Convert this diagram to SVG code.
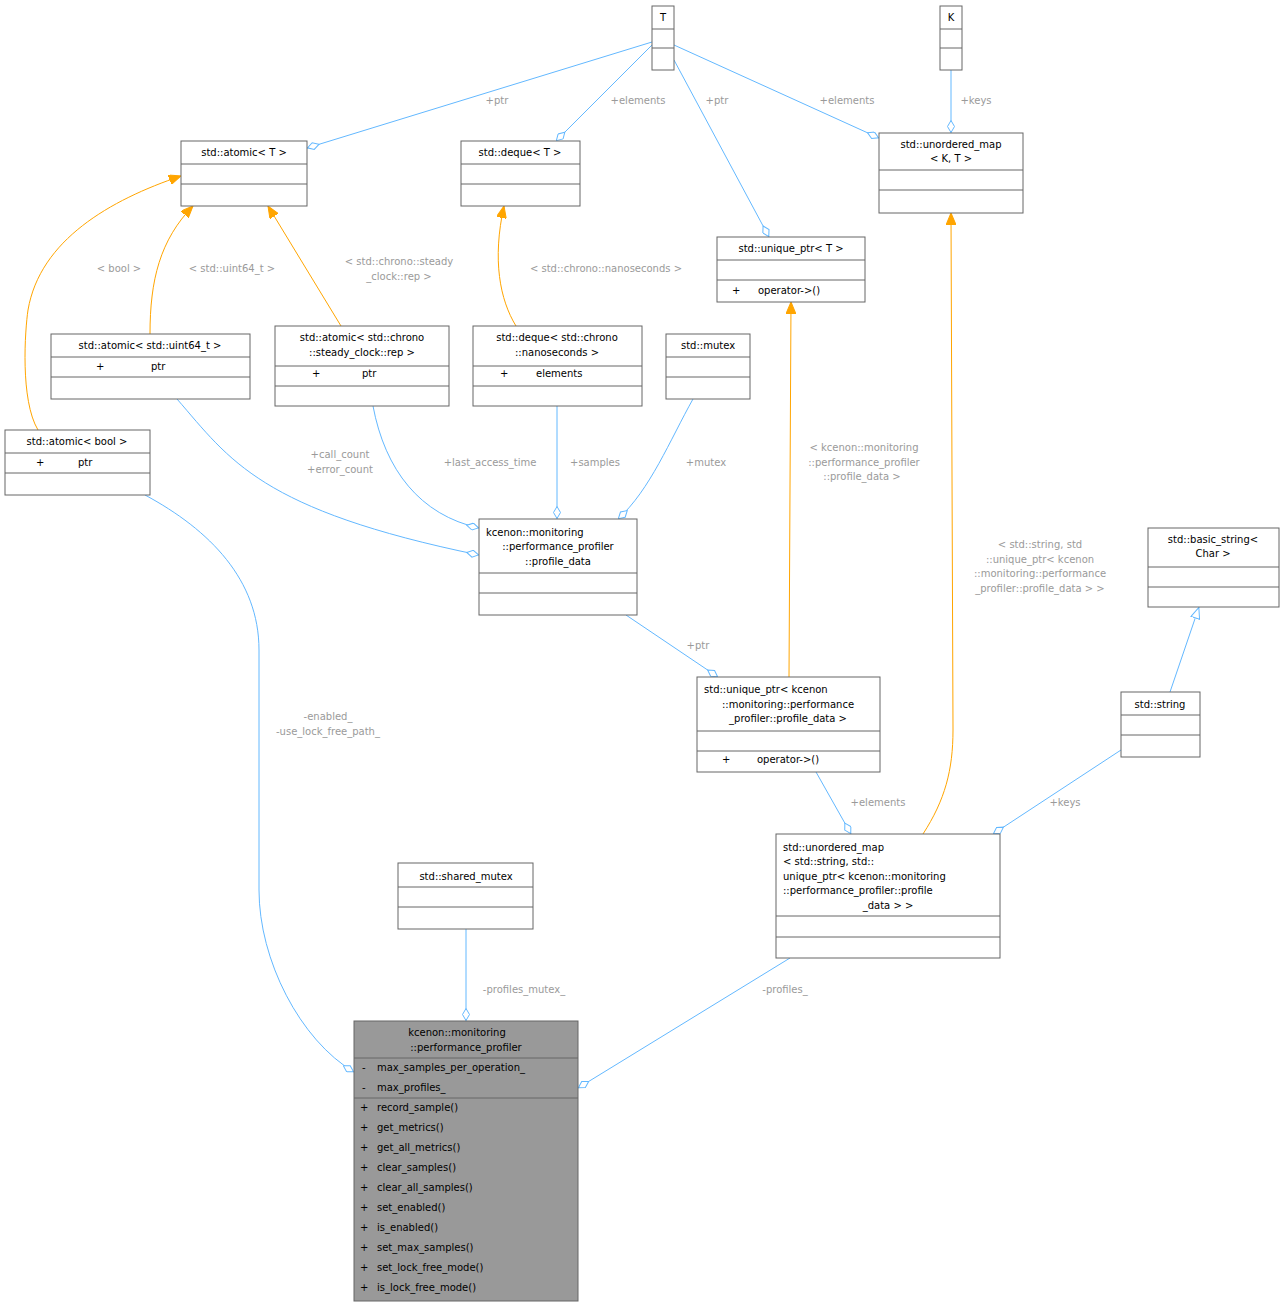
<svg xmlns="http://www.w3.org/2000/svg" width="1285" height="1307" viewBox="0 0 1285 1307">
<style>
text{font-family:"DejaVu Sans","Liberation Sans",sans-serif;font-size:10px;fill:#000}
.n rect{fill:#fff;stroke:#666;stroke-width:1}
.n line{stroke:#666;stroke-width:1}
.m{text-anchor:middle}
.lb{fill:#9a9a9a;text-anchor:middle}
.b{fill:none;stroke:#63b8ff;stroke-width:1}
.o{fill:none;stroke:#ffa500;stroke-width:1}
</style>
<defs>
<marker id="dia" viewBox="0 0 13 8" refX="13" refY="4" markerWidth="13" markerHeight="8" markerUnits="userSpaceOnUse" orient="auto"><path d="M0.5,4 L6.5,0.5 L12.5,4 L6.5,7.5 Z" fill="#fff" stroke="#63b8ff"/></marker>
<marker id="arr" viewBox="0 0 12 10" refX="12" refY="5" markerWidth="12" markerHeight="10" markerUnits="userSpaceOnUse" orient="auto"><path d="M0,0 L12,5 L0,10 Z" fill="#ffa500" stroke="#ffa500"/></marker>
<marker id="tri" viewBox="0 0 12 10" refX="12" refY="5" markerWidth="12" markerHeight="10" markerUnits="userSpaceOnUse" orient="auto"><path d="M0.5,0.5 L11.5,5 L0.5,9.5 Z" fill="#fff" stroke="#63b8ff"/></marker>
</defs>
<rect width="1285" height="1307" fill="#fff"/>
<g id="edges">
<path class="b" d="M652,42 L307,148" marker-end="url(#dia)"/>
<path class="b" d="M652,45 L556,141" marker-end="url(#dia)"/>
<path class="b" d="M674,60 L769,237" marker-end="url(#dia)"/>
<path class="b" d="M674,45 L879,138" marker-end="url(#dia)"/>
<path class="b" d="M951,70 L951,133" marker-end="url(#dia)"/>
<path class="o" d="M38,430 C20,400 25,330 28,310 C40,240 110,200 181,176" marker-end="url(#arr)"/>
<path class="o" d="M150,334 C150,280 160,240 193,206" marker-end="url(#arr)"/>
<path class="o" d="M341,326 L268,206" marker-end="url(#arr)"/>
<path class="o" d="M516,326 C500,300 492,260 504,206" marker-end="url(#arr)"/>
<path class="o" d="M789,677 L791,302" marker-end="url(#arr)"/>
<path class="o" d="M923,834 C945,800 953,770 953,730 L951,213" marker-end="url(#arr)"/>
<path class="b" d="M177,399 C230,460 260,510 479,555" marker-end="url(#dia)"/>
<path class="b" d="M373,406 C385,470 420,515 479,528" marker-end="url(#dia)"/>
<path class="b" d="M557,406 L557,519" marker-end="url(#dia)"/>
<path class="b" d="M693,399 C670,440 650,490 618,519" marker-end="url(#dia)"/>
<path class="b" d="M1170,692 L1199,607" marker-end="url(#tri)"/>
<path class="b" d="M626,615 L718,677" marker-end="url(#dia)"/>
<path class="b" d="M816,772 L851,834" marker-end="url(#dia)"/>
<path class="b" d="M1121,750 L993,834" marker-end="url(#dia)"/>
<path class="b" d="M790,958 L578,1088" marker-end="url(#dia)"/>
<path class="b" d="M466,929 L466,1021" marker-end="url(#dia)"/>
<path class="b" d="M145,495 C210,530 259,580 259,650 L259,890 C259,960 300,1040 354,1072" marker-end="url(#dia)"/>
<text class="lb" x="497" y="104">+ptr</text>
<text class="lb" x="638" y="104">+elements</text>
<text class="lb" x="717" y="104">+ptr</text>
<text class="lb" x="847" y="104">+elements</text>
<text class="lb" x="976" y="104">+keys</text>
<text class="lb" x="119" y="272">&lt; bool &gt;</text>
<text class="lb" x="232" y="272">&lt; std::uint64_t &gt;</text>
<text class="lb" x="399" y="265">&lt; std::chrono::steady</text>
<text class="lb" x="399" y="280">_clock::rep &gt;</text>
<text class="lb" x="606" y="272">&lt; std::chrono::nanoseconds &gt;</text>
<text class="lb" x="864" y="451">&lt; kcenon::monitoring</text>
<text class="lb" x="864" y="466">::performance_profiler</text>
<text class="lb" x="862" y="480">::profile_data &gt;</text>
<text class="lb" x="1040" y="548">&lt; std::string, std</text>
<text class="lb" x="1040" y="563">::unique_ptr&lt; kcenon</text>
<text class="lb" x="1040" y="577">::monitoring::performance</text>
<text class="lb" x="1040" y="592">_profiler::profile_data &gt; &gt;</text>
<text class="lb" x="340" y="458">+call_count</text>
<text class="lb" x="340" y="473">+error_count</text>
<text class="lb" x="490" y="466">+last_access_time</text>
<text class="lb" x="595" y="466">+samples</text>
<text class="lb" x="706" y="466">+mutex</text>
<text class="lb" x="698" y="649">+ptr</text>
<text class="lb" x="878" y="806">+elements</text>
<text class="lb" x="1065" y="806">+keys</text>
<text class="lb" x="785" y="993">-profiles_</text>
<text class="lb" x="524" y="993">-profiles_mutex_</text>
<text class="lb" x="328" y="720">-enabled_</text>
<text class="lb" x="328" y="735">-use_lock_free_path_</text>
</g>
<g id="T" class="n"><rect x="652" y="6" width="22" height="64"/><line x1="652" y1="29" x2="674" y2="29"/><line x1="652" y1="48" x2="674" y2="48"/><text class="m" x="663" y="21">T</text></g>
<g id="K" class="n"><rect x="940" y="6" width="22" height="64"/><line x1="940" y1="29" x2="962" y2="29"/><line x1="940" y1="48" x2="962" y2="48"/><text class="m" x="951" y="21">K</text></g>
<g id="atomicT" class="n"><rect x="181" y="141" width="126" height="65"/><line x1="181" y1="164" x2="307" y2="164"/><line x1="181" y1="184" x2="307" y2="184"/><text class="m" x="244" y="156">std::atomic&lt; T &gt;</text></g>
<g id="dequeT" class="n"><rect x="461" y="141" width="119" height="65"/><line x1="461" y1="164" x2="580" y2="164"/><line x1="461" y1="184" x2="580" y2="184"/><text class="m" x="520" y="156">std::deque&lt; T &gt;</text></g>
<g id="umapKT" class="n"><rect x="879" y="133" width="144" height="80"/><line x1="879" y1="170" x2="1023" y2="170"/><line x1="879" y1="190" x2="1023" y2="190"/><text class="m" x="951" y="148">std::unordered_map</text><text class="m" x="951" y="162">&lt; K, T &gt;</text></g>
<g id="uptrT" class="n"><rect x="717" y="237" width="148" height="65"/><line x1="717" y1="260" x2="865" y2="260"/><line x1="717" y1="280" x2="865" y2="280"/><text class="m" x="791" y="252">std::unique_ptr&lt; T &gt;</text><text x="732" y="294">+</text><text x="758" y="294">operator-&gt;()</text></g>
<g id="atomicU64" class="n"><rect x="51" y="334" width="199" height="65"/><line x1="51" y1="357" x2="250" y2="357"/><line x1="51" y1="377" x2="250" y2="377"/><text class="m" x="150" y="349">std::atomic&lt; std::uint64_t &gt;</text><text x="96" y="370">+</text><text x="151" y="370">ptr</text></g>
<g id="atomicChrono" class="n"><rect x="275" y="326" width="174" height="80"/><line x1="275" y1="366" x2="449" y2="366"/><line x1="275" y1="386" x2="449" y2="386"/><text class="m" x="362" y="341">std::atomic&lt; std::chrono</text><text class="m" x="362" y="356">::steady_clock::rep &gt;</text><text x="312" y="377">+</text><text x="362" y="377">ptr</text></g>
<g id="dequeNs" class="n"><rect x="473" y="326" width="169" height="80"/><line x1="473" y1="366" x2="642" y2="366"/><line x1="473" y1="386" x2="642" y2="386"/><text class="m" x="557" y="341">std::deque&lt; std::chrono</text><text class="m" x="557" y="356">::nanoseconds &gt;</text><text x="500" y="377">+</text><text x="536" y="377">elements</text></g>
<g id="mutex" class="n"><rect x="666" y="334" width="84" height="65"/><line x1="666" y1="357" x2="750" y2="357"/><line x1="666" y1="377" x2="750" y2="377"/><text class="m" x="708" y="349">std::mutex</text></g>
<g id="atomicBool" class="n"><rect x="5" y="430" width="145" height="65"/><line x1="5" y1="453" x2="150" y2="453"/><line x1="5" y1="473" x2="150" y2="473"/><text class="m" x="77" y="445">std::atomic&lt; bool &gt;</text><text x="36" y="466">+</text><text x="78" y="466">ptr</text></g>
<g id="profileData" class="n"><rect x="479" y="519" width="158" height="96"/><line x1="479" y1="573" x2="637" y2="573"/><line x1="479" y1="593" x2="637" y2="593"/><text x="486" y="536">kcenon::monitoring</text><text class="m" x="558" y="550">::performance_profiler</text><text class="m" x="558" y="565">::profile_data</text></g>
<g id="basicString" class="n"><rect x="1148" y="528" width="131" height="79"/><line x1="1148" y1="567" x2="1279" y2="567"/><line x1="1148" y1="587" x2="1279" y2="587"/><text class="m" x="1213" y="543">std::basic_string&lt;</text><text class="m" x="1213" y="557">Char &gt;</text></g>
<g id="uptrPD" class="n"><rect x="697" y="677" width="183" height="95"/><line x1="697" y1="731" x2="880" y2="731"/><line x1="697" y1="751" x2="880" y2="751"/><text x="704" y="693">std::unique_ptr&lt; kcenon</text><text class="m" x="788" y="708">::monitoring::performance</text><text class="m" x="788" y="722">_profiler::profile_data &gt;</text><text x="722" y="763">+</text><text x="757" y="763">operator-&gt;()</text></g>
<g id="string" class="n"><rect x="1121" y="692" width="79" height="65"/><line x1="1121" y1="715" x2="1200" y2="715"/><line x1="1121" y1="735" x2="1200" y2="735"/><text class="m" x="1160" y="708">std::string</text></g>
<g id="umapBig" class="n"><rect x="776" y="834" width="224" height="124"/><line x1="776" y1="916" x2="1000" y2="916"/><line x1="776" y1="937" x2="1000" y2="937"/><text x="783" y="851">std::unordered_map</text><text x="783" y="865">&lt; std::string, std::</text><text x="783" y="880">unique_ptr&lt; kcenon::monitoring</text><text x="783" y="894">::performance_profiler::profile</text><text class="m" x="888" y="909">_data &gt; &gt;</text></g>
<g id="sharedMutex" class="n"><rect x="398" y="863" width="135" height="66"/><line x1="398" y1="887" x2="533" y2="887"/><line x1="398" y1="907" x2="533" y2="907"/><text class="m" x="466" y="880">std::shared_mutex</text></g>
<g id="profiler" class="n"><rect x="354" y="1021" width="224" height="280" style="fill:#999"/><line x1="354" y1="1058" x2="578" y2="1058"/><line x1="354" y1="1098" x2="578" y2="1098"/>
<text class="m" x="457" y="1036">kcenon::monitoring</text><text class="m" x="466" y="1051">::performance_profiler</text>
<text x="362" y="1071">-</text><text x="377" y="1071">max_samples_per_operation_</text>
<text x="362" y="1091">-</text><text x="377" y="1091">max_profiles_</text>
<text x="360" y="1111">+</text><text x="377" y="1111">record_sample()</text>
<text x="360" y="1131">+</text><text x="377" y="1131">get_metrics()</text>
<text x="360" y="1151">+</text><text x="377" y="1151">get_all_metrics()</text>
<text x="360" y="1171">+</text><text x="377" y="1171">clear_samples()</text>
<text x="360" y="1191">+</text><text x="377" y="1191">clear_all_samples()</text>
<text x="360" y="1211">+</text><text x="377" y="1211">set_enabled()</text>
<text x="360" y="1231">+</text><text x="377" y="1231">is_enabled()</text>
<text x="360" y="1251">+</text><text x="377" y="1251">set_max_samples()</text>
<text x="360" y="1271">+</text><text x="377" y="1271">set_lock_free_mode()</text>
<text x="360" y="1291">+</text><text x="377" y="1291">is_lock_free_mode()</text></g>
</svg>
